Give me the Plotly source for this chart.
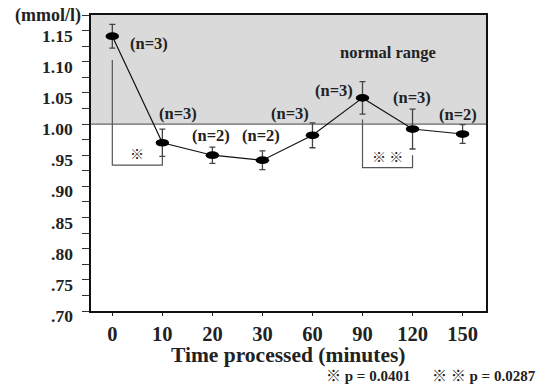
import plotly.graph_objects as go

# ---- data ----
times = ["0", "10", "20", "30", "60", "90", "120", "150"]
means = [1.141, 0.970, 0.950, 0.942, 0.982, 1.042, 0.992, 0.984]
errors = [0.019, 0.022, 0.013, 0.015, 0.020, 0.026, 0.032, 0.015]
n_labels = ["(n=3)", "(n=3)", "(n=2)", "(n=2)", "(n=3)", "(n=3)", "(n=3)", "(n=2)"]
y_tick_vals = [1.15, 1.10, 1.05, 1.00, 0.95, 0.90, 0.85, 0.80, 0.75, 0.70]
y_tick_text = ["1.15", "1.10", "1.05", "1.00", ".95", ".90", ".85", ".80", ".75", ".70"]
normal_low = 1.00
normal_high = 1.175
# significance brackets: (left index, right index, left top, bottom, right top, mark)
brackets = [
    (0, 1, 1.1026, 0.934, 0.949, "※"),
    (5, 6, 1.0075, 0.930, 0.950, "※ ※"),
]
footnotes = ["※ p = 0.0401", "※ ※ p = 0.0287"]
x_title = "Time processed (minutes)"

# ---- styling / placement ----
SERIF = "Liberation Serif, Noto Sans CJK JP"
label_offsets = [(37, 7), (16, -29), (-1, -20), (-1, -25), (-22, -22), (-29, -7), (-1, -32), (-5, -20)]

xi = list(range(len(times)))
fig = go.Figure()

# bracket lines
for (a, b, ta, bot, tb, mark) in brackets:
    fig.add_trace(go.Scatter(x=[a, a, b, b], y=[ta, bot, bot, tb], mode="lines",
                             line=dict(color="#555555", width=1.2), hoverinfo="skip",
                             showlegend=False))
    fig.add_annotation(x=(a + b) / 2, y=bot, text=mark, showarrow=False,
                       yanchor="bottom", yshift=0,
                       font=dict(family="Noto Sans CJK JP", size=14, color="#222"))

# main series
fig.add_trace(go.Scatter(
    x=xi, y=means, mode="lines",
    line=dict(color="#111111", width=1.2),
    error_y=dict(type="data", array=errors, visible=True, color="#444444",
                 thickness=1.3, width=3),
    showlegend=False, hoverinfo="skip"))

shapes = []
# normal range shading
shapes.append(dict(type="rect", xref="paper", yref="y", x0=0, x1=1,
                   y0=normal_low, y1=normal_high, fillcolor="#dadada",
                   line=dict(width=0), layer="below"))
shapes.append(dict(type="line", xref="paper", yref="y", x0=0, x1=1,
                   y0=normal_low, y1=normal_low, line=dict(color="#666666", width=1.2),
                   layer="below"))
# elliptical markers
for i, v in zip(xi, means):
    shapes.append(dict(type="circle", xref="x", yref="y", x0=i - 0.135, x1=i + 0.135,
                       y0=v - 0.0062, y1=v + 0.0062, fillcolor="#000000",
                       line=dict(width=0), layer="above"))
fig.update_layout(shapes=shapes)

# n labels
for i, v, t, (dx, dy) in zip(xi, means, n_labels, label_offsets):
    fig.add_annotation(x=i, y=v, text=t, showarrow=False, xshift=dx, yshift=-dy,
                       font=dict(family=SERIF, size=16.5, color="#222", weight="bold"))

# y tick labels
for v, t in zip(y_tick_vals, y_tick_text):
    fig.add_annotation(xref="paper", x=0, y=v, text=t, showarrow=False,
                       xanchor="right", yanchor="middle", xshift=-16, yshift=-5,
                       font=dict(family=SERIF, size=17.5, color="#222", weight="bold"))
fig.add_annotation(xref="paper", x=0, y=normal_high, text="(mmol/l)", showarrow=False,
                   xanchor="right", yanchor="middle", xshift=-8,
                   font=dict(family=SERIF, size=18, color="#222", weight="bold"))

fig.add_annotation(x=5.51, y=1.115, text="normal range", showarrow=False,
                   font=dict(family=SERIF, size=16.5, color="#222", weight="bold"))

# x axis title
fig.add_annotation(xref="paper", yref="paper", x=0.5, y=-0.148, text=x_title,
                   showarrow=False, xanchor="center", yanchor="middle",
                   font=dict(family=SERIF, size=21.5, color="#222", weight="bold"))

fig.add_annotation(xref="paper", yref="paper", x=0.591, y=-0.221, text=footnotes[0],
                   showarrow=False, xanchor="left", yanchor="middle",
                   font=dict(family=SERIF, size=15, color="#222", weight="bold"))
fig.add_annotation(xref="paper", yref="paper", x=0.857, y=-0.221, text=footnotes[1],
                   showarrow=False, xanchor="left", yanchor="middle",
                   font=dict(family=SERIF, size=15, color="#222", weight="bold"))

minor_ticks = [round(0.70 + 0.025 * k, 3) for k in range(20)]
fig.update_layout(
    width=555, height=386, autosize=False,
    margin=dict(l=91, r=69, t=15, b=75),
    paper_bgcolor="white", plot_bgcolor="white",
    xaxis=dict(range=[-0.426, 7.468], tickmode="array", tickvals=xi, ticktext=times,
               ticks="outside", ticklen=3, tickcolor="#222", showline=True,
               linecolor="#111", linewidth=2, mirror=True, showgrid=False, zeroline=False,
               tickfont=dict(family=SERIF, size=20.5, color="#222", weight="bold")),
    yaxis=dict(range=[0.70, 1.175], tickmode="array", tickvals=minor_ticks,
               ticktext=["" for _ in minor_ticks], ticks="outside", ticklen=7,
               tickcolor="#333", showline=True, linecolor="#111", linewidth=2,
               mirror=True, showgrid=False, zeroline=False),
)

fig.write_html("out.html", config={"displayModeBar": False},
               post_script="document.body.style.margin='0px';")
